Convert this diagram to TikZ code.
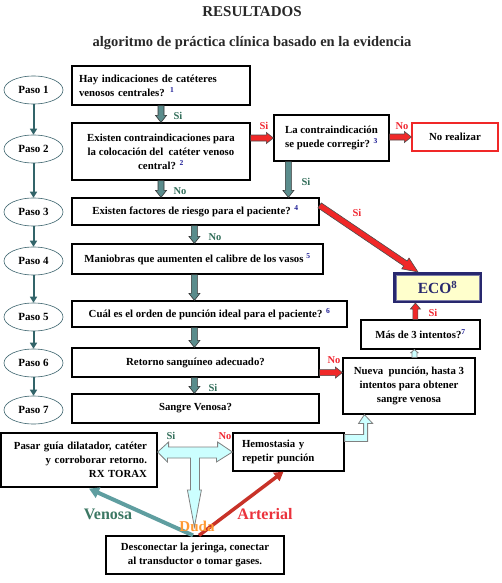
\documentclass[tikz,border=0pt]{standalone}
\usepackage{fontspec}
\setmainfont{Liberation Serif}
\usetikzlibrary{calc,arrows.meta,shapes.geometric}
\definecolor{tealfill}{RGB}{90,140,140}
\definecolor{tealline}{RGB}{50,100,105}
\definecolor{ellb}{RGB}{60,100,110}
\definecolor{lblteal}{RGB}{50,110,90}
\definecolor{redfill}{RGB}{240,40,40}
\definecolor{lblred}{RGB}{240,40,50}
\definecolor{cyanfill}{RGB}{204,255,255}
\definecolor{cyanb}{RGB}{128,128,128}
\definecolor{navy}{RGB}{40,40,110}
\definecolor{ecofill}{RGB}{255,255,204}
\definecolor{supc}{RGB}{30,30,150}
\definecolor{venline}{RGB}{95,158,160}
\definecolor{ventext}{RGB}{60,120,100}
\definecolor{artline}{RGB}{200,50,40}
\definecolor{arttext}{RGB}{235,50,60}
\definecolor{dudac}{RGB}{255,153,51}
\definecolor{titc}{RGB}{40,40,40}
\newcommand\sn[1]{\textsuperscript{\textcolor{supc}{#1}}}
\newcommand\blockarrow[6]{%
  \draw[#1] let \p1=(#2), \p2=(#3),
    \n1={atan2(\y2-\y1,\x2-\x1)}, \n2={veclen(\x2-\x1,\y2-\y1)} in
    ($(\p1)+(\n1+90:#4)$) --
    ($(\p1)+(\n1:{\n2-#6})+(\n1+90:#4)$) --
    ($(\p1)+(\n1:{\n2-#6})+(\n1+90:#5)$) --
    (\p2) --
    ($(\p1)+(\n1:{\n2-#6})+(\n1-90:#5)$) --
    ($(\p1)+(\n1:{\n2-#6})+(\n1-90:#4)$) --
    ($(\p1)+(\n1-90:#4)$) -- cycle;}
\begin{document}
\begin{tikzpicture}[x=1pt,y=-1pt,
  box/.style={draw, line width=1.2pt, font=\fontsize{10.8}{14}\selectfont\bfseries, align=center, inner sep=2pt},
  paso/.style={draw=ellb, line width=0.6pt, ellipse, minimum width=59pt, minimum height=28pt, inner sep=0pt, font=\fontsize{11}{12}\selectfont\bfseries},
  pasoarrow/.style={draw=tealline, line width=2pt, -{Triangle[length=6pt,width=7pt]}},
  tarrow/.style={fill=tealfill, draw=black!80, line width=0.6pt},
  rarrow/.style={fill=redfill, draw=black!70, line width=0.6pt},
  carrow/.style={fill=cyanfill, draw=cyanb, line width=0.8pt},
  lblt/.style={text=lblteal, font=\fontsize{10.5}{12}\selectfont\bfseries, inner sep=0pt},
  lblr/.style={text=lblred, font=\fontsize{10.5}{12}\selectfont\bfseries, inner sep=0pt}]
\useasboundingbox (0,0) rectangle (502,583);
\fill[white] (0,0) rectangle (502,583);

\node[text=titc, font=\fontsize{15}{17}\selectfont\bfseries] (tit) at (252,12) {RESULTADOS};
\node[text=titc, font=\fontsize{14.5}{16}\selectfont\bfseries] (sub) at (252,43) {algoritmo de práctica clínica basado en la evidencia};

% paso ellipses
\node[paso] (p1) at (33.5,90) {Paso 1};
\node[paso] (p2) at (33.5,149) {Paso 2};
\node[paso] (p3) at (33.5,212) {Paso 3};
\node[paso] (p4) at (33.5,261) {Paso 4};
\node[paso] (p5) at (33.5,317) {Paso 5};
\node[paso] (p6) at (33.5,363) {Paso 6};
\node[paso] (p7) at (33.5,410) {Paso 7};
\foreach \a/\b in {p1/p2,p2/p3,p3/p4,p4/p5,p5/p6,p6/p7}
  \draw[pasoarrow] (\a) -- (\b);

% boxes
\node[box, minimum width=178pt, minimum height=39pt, text width=164pt, align=left] (b1) at (161,85.5)
  {Hay indicaciones de catéteres\\venosos centrales? \sn{1}};
\node[box, minimum width=178pt, minimum height=57pt] (b2) at (161,151.5)
  {Existen contraindicaciones para\\la colocación del\ \ catéter venoso\\central? \sn{2}};
\node[box, minimum width=115pt, minimum height=46pt] (b3) at (331.5,138)
  {La contraindicación\\se puede corregir? \sn{3}};
\node[box, draw=redfill, minimum width=86pt, minimum height=28pt] (nr) at (455,137) {No realizar};
\node[box, minimum width=247pt, minimum height=27pt] (b4) at (195.5,211.5)
  {Existen factores de riesgo para el paciente? \sn{4}};
\node[box, minimum width=251pt, minimum height=30pt] (b5) at (197.5,259)
  {Maniobras que aumenten el calibre de los vasos \sn{5}};
\node[box, minimum width=275pt, minimum height=26pt] (b6) at (209.5,314)
  {Cuál es el orden de punción ideal para el paciente? \sn{6}};
\node[box, minimum width=247pt, minimum height=29pt] (b7) at (195.5,362.5)
  {Retorno sanguíneo adecuado?};
\node[box, minimum width=247pt, minimum height=29pt] (b8) at (195.5,408.5)
  {Sangre Venosa?};
\node[draw=navy, line width=3pt, fill=ecofill, minimum width=86pt, minimum height=28pt, inner sep=0pt,
  text=navy, font=\fontsize{15.5}{17}\selectfont\bfseries] (eco) at (437.5,287.5) {ECO\textsuperscript{8}};
\draw[navy!60, line width=0.6pt] ($(eco.north west)+(3,3)$) rectangle ($(eco.south east)+(-3,-3)$);
\node[box, minimum width=119pt, minimum height=29pt] (mas) at (420.5,334.5) {Más de 3 intentos?\sn{7}};
\node[box, minimum width=132pt, minimum height=56pt] (nueva) at (409,386)
  {Nueva\ \ punción, hasta 3\\intentos para obtener\\sangre venosa};
\node[box, minimum width=156pt, minimum height=54pt, text width=136pt, align=right] (pasar) at (79,460)
  {Pasar guía dilatador, catéter\\y corroborar retorno.\\RX TORAX};
\node[box, minimum width=111pt, minimum height=38pt, text width=93pt, align=left] (hemo) at (288.5,452)
  {Hemostasia y\\repetir punción};
\node[box, minimum width=178pt, minimum height=38pt] (desc) at (195,555)
  {Desconectar la jeringa, conectar\\al transductor o tomar gases.};

% helper coordinates
\coordinate (a3s) at ($(b3.south west)+(15,0)$);
\coordinate (mx4) at ($(b4.south west)+(123,0)$);
\coordinate (mx5) at ($(b5.south west)+(123,0)$);
\coordinate (mx6) at ($(b6.south west)+(123,0)$);
\coordinate (mx7) at ($(b7.south west)+(123,0)$);
\coordinate (r7) at ($(b7.south east)+(0,-5)$);
\coordinate (ms) at ($(mas.north west)+(55,0)$);
\coordinate (ns) at ($(nueva.north west)+(72,0)$);
\coordinate (rs) at ($(b4.north east)+(0,8)$);
\coordinate (re) at ($(eco.north west)+(25,0)$);

% teal block arrows
\blockarrow{tarrow}{b1.south}{b2.north}{3pt}{5.5pt}{7pt}
\blockarrow{tarrow}{b2.south}{b2.south |- b4.north}{3pt}{5.5pt}{7pt}
\blockarrow{tarrow}{a3s}{a3s |- b4.north}{3pt}{5.5pt}{7pt}
\blockarrow{tarrow}{mx4}{mx4 |- b5.north}{3pt}{5.5pt}{7pt}
\blockarrow{tarrow}{mx5}{mx5 |- b6.north}{3pt}{5.5pt}{7pt}
\blockarrow{tarrow}{mx6}{mx6 |- b7.north}{3pt}{5.5pt}{7pt}
\blockarrow{tarrow}{mx7}{mx7 |- b8.north}{3pt}{5.5pt}{7pt}

% red block arrows
\blockarrow{rarrow}{b2.east |- b3.west}{b3.west}{3pt}{5.5pt}{7pt}
\blockarrow{rarrow}{b3.east |- nr.west}{nr.west}{3pt}{5.5pt}{7pt}
\blockarrow{rarrow}{r7}{r7 -| nueva.west}{3pt}{5.5pt}{7pt}
\blockarrow{rarrow}{ms}{ms |- eco.south}{2.5pt}{5pt}{6pt}
\blockarrow{rarrow}{rs}{re}{3pt}{6.5pt}{15pt}

% cyan arrows
\blockarrow{carrow}{ns}{ns |- mas.south}{2.5pt}{3.5pt}{3pt}
\draw[carrow] ($(hemo.north east)+(0,9)$) -- ($(hemo.north east)+(23,9)$) -- ($(hemo.north east)+(23,-9)$)
  -- ($(hemo.north east)+(28,-9)$) -- ($(nueva.south west)+(22,0)$) -- ($(hemo.north east)+(14,-9)$)
  -- ($(hemo.north east)+(19,-9)$) -- ($(hemo.north east)+(19,2)$) -- ($(hemo.north east)+(0,2)$) -- cycle;
\draw[carrow] (pasar.east |- hemo.west) -- ++(11,-10) -- ++(0,5) -- ++(49,0) -- ++(0,-5) -- (hemo.west)
  -- ++(-16,10) -- ++(0,-4) -- ++(-17,0) -- ++(0,32) -- ++(2,0) -- ++(-7,37) -- ++(-7,-37) -- ++(3,0)
  -- ++(0,-32) -- ++(-23,0) -- ++(0,4) -- cycle;

% venosa / arterial
\coordinate (vs) at ($(desc.north)+(-2,0)$);
\coordinate (ve) at ($(pasar.south)+(10,1)$);
\coordinate (as) at ($(desc.north)+(4,0)$);
\coordinate (ae) at ($(hemo.south)+(-5,0)$);
\draw[venline, line width=4pt, -{Triangle[length=10pt,width=11pt]}] (vs) -- (ve);
\draw[artline, line width=3.5pt, -{Triangle[length=9pt,width=10pt]}] (as) -- (ae);

% labels
\node[lblt] (l1) at (178,116) {Si};
\node[lblr] (l2) at (264,126) {Si};
\node[lblr] (l3) at (402,126) {No};
\node[lblt] (l4) at (306,182) {Si};
\node[lblt] (l5) at (180,191) {No};
\node[lblr] (l6) at (357,213) {Si};
\node[lblt] (l7) at (215,237) {No};
\node[lblr] (l8) at (433,313) {Si};
\node[lblr] (l9) at (334,360) {No};
\node[lblt] (l10) at (213,388) {Si};
\node[lblt] (l11) at (171,436) {Si};
\node[lblr] (l12) at (225,436) {No};
\node[text=ventext, font=\fontsize{16}{18}\selectfont\bfseries, inner sep=0pt] (ven) at (108,514) {Venosa};
\node[text=arttext, font=\fontsize{16}{18}\selectfont\bfseries, inner sep=0pt] (art) at (265,514) {Arterial};
\node[text=dudac, font=\fontsize{15}{17}\selectfont\bfseries, inner sep=0pt] (duda) at (197,526) {Duda};
\end{tikzpicture}
\end{document}
